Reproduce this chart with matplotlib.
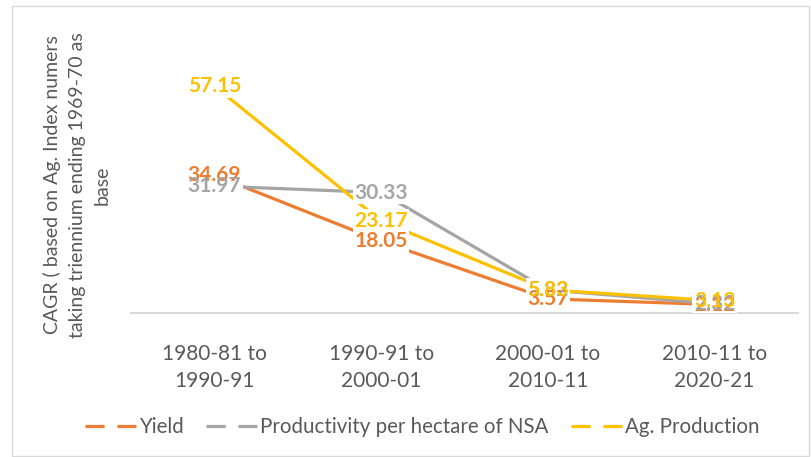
import matplotlib
matplotlib.use("Agg")
import matplotlib.pyplot as plt
from matplotlib.lines import Line2D
from matplotlib.patches import Rectangle

plt.rcParams['font.family'] = ['Lato', 'DejaVu Sans']

categories = ["1980-81 to\n1990-91", "1990-91 to\n2000-01", "2000-01 to\n2010-11", "2010-11 to\n2020-21"]
yield_vals = [34.69, 18.05, 3.57, 2.12]
productivity_vals = [31.97, 30.33, 5.82, 2.32]
production_vals = [57.15, 23.17, 5.83, 3.13]
series_names = ["Yield", "Productivity per hectare of NSA", "Ag. Production"]
colors = ["#ED7D31", "#A5A5A5", "#FFC000"]
ylabel = "CAGR ( based on Ag. Index numers\ntaking triennium ending 1969-70 as\nbase"

W, H = 811, 457
fig = plt.figure(figsize=(W / 100, H / 100), dpi=100)
fig.patches.append(Rectangle((12 / W, 0.002), (809 - 12) / W, (H - 6) / H - 0.002,
                             transform=fig.transFigure, fill=False,
                             edgecolor="#D9D9D9", lw=1.0))

ax = fig.add_axes([131 / W, (H - 313) / H, (798 - 131) / W, (313 - 35) / H])
x = list(range(len(categories)))
series = [yield_vals, productivity_vals, production_vals]

for vals, c, name in zip(series, colors, series_names):
    ax.plot(x, vals, color=c, lw=2.3, solid_capstyle="butt", zorder=2)

labels = []
z = 5
for vals, c in zip(series, colors):
    for xi, v in zip(x, vals):
        t = ax.text(xi, v, f"{v:.2f}", color=c, fontsize=15, fontweight="bold",
                    ha="center", va="center", zorder=z)
        labels.append(t)
        z += 1

ax.set_xlim(-0.5, 3.5)
ax.set_ylim(0, 70)
ax.set_xticks(x)
ax.set_xticklabels(categories, fontsize=15, color="#595959", linespacing=1.45)
ax.tick_params(axis="x", length=0, pad=22)
ax.set_yticks([])
for s in ["top", "right", "left"]:
    ax.spines[s].set_visible(False)
ax.spines["bottom"].set_color("#D9D9D9")
ax.spines["bottom"].set_linewidth(1.5)

fig.text(77 / W, 1 - 185 / H, ylabel, rotation=90, ha="center", va="center",
         fontsize=14, color="#595959", linespacing=1.55, multialignment="center")

handles = [Line2D([0], [0], color=c, lw=2.3, linestyle=(0, (6, 4))) for c in colors]
fig.legend(handles, series_names, loc="center", bbox_to_anchor=(422 / W, 1 - 427 / H),
           ncol=3, frameon=False, fontsize=14.8, labelcolor="#595959",
           handlelength=2.5, handletextpad=0.12, columnspacing=1.1)

# white boxes behind the data labels that clear the lines (labels stay on top)
fig.canvas.draw()
renderer = fig.canvas.get_renderer()
pad = 1.5
for t in labels:
    bb = t.get_window_extent(renderer)
    rect = Rectangle((bb.x0 - pad, bb.y0 - pad), bb.width + 2 * pad, bb.height + 2 * pad,
                     transform=None, fc="white", ec="none", zorder=3)
    ax.add_artist(rect)

fig.savefig("out.png", dpi=100)
